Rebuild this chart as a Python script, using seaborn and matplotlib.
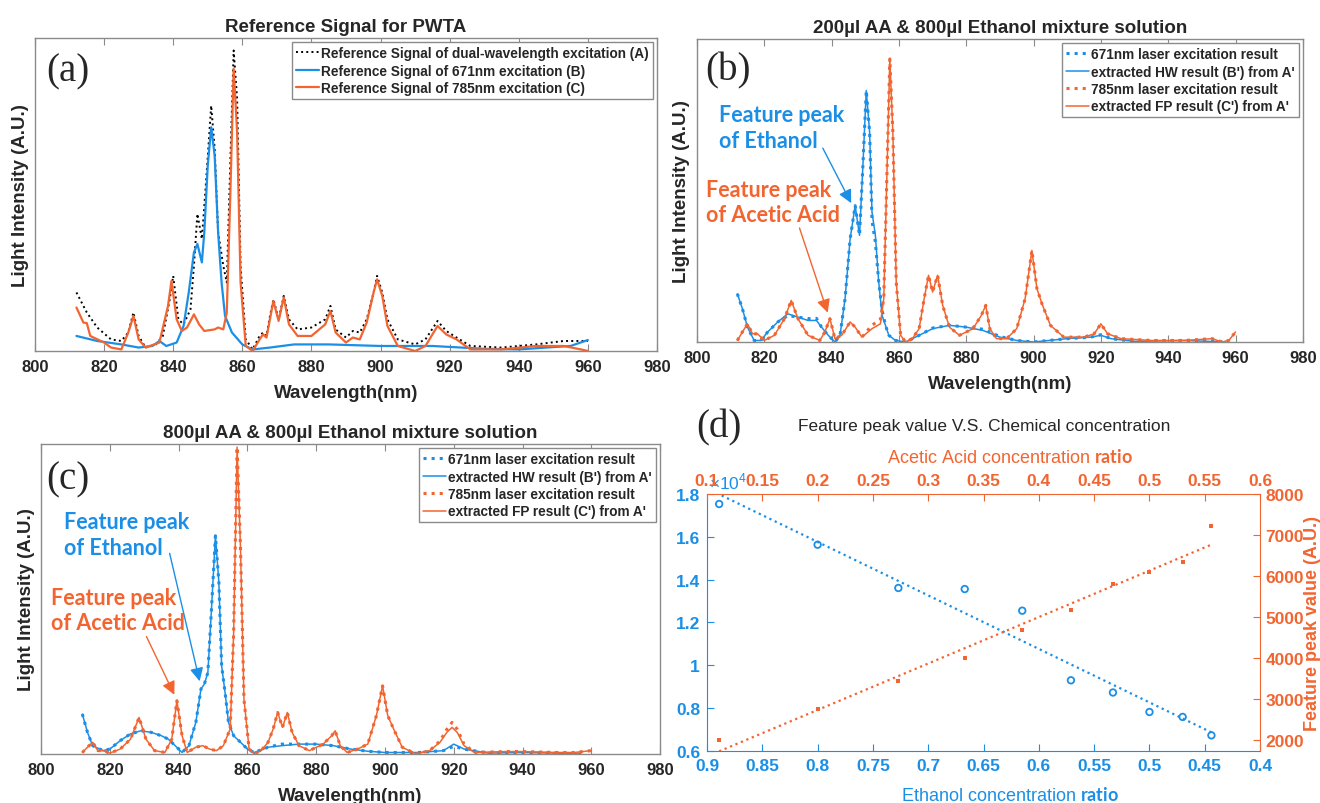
import numpy as np
import matplotlib
matplotlib.use('Agg')
import matplotlib.pyplot as plt
import seaborn as sns

sns.set_style('white')
plt.rcParams['font.family'] = ['Liberation Sans', 'DejaVu Sans']
plt.rcParams['mathtext.fontset'] = 'custom'
plt.rcParams['mathtext.rm'] = 'Liberation Sans'
plt.rcParams['mathtext.bf'] = 'Lato:bold'

BLUE = '#1b8fe6'
ORANGE = '#f26531'
GRIS = '#8a8a8a'

# (a) senales de referencia
wl_a_dual = [812, 815, 818, 822, 825, 827, 828.5, 830, 832, 835, 837, 839, 840, 841.5, 843, 845, 846, 847,
             848.3, 849.5, 851, 852, 853, 854.5, 855.5, 856.5, 857.5, 858.5, 859.5, 861, 863, 865, 866, 867,
             868, 869, 870.5, 872, 873.5, 876, 880, 884, 885.5, 887, 890, 892, 894, 896, 898, 899, 900.5,
             902, 905, 910, 913, 916.5, 919, 922, 926, 935, 945, 953, 960]
int_a_dual = [18.7, 12.3, 7.5, 3.7, 3.2, 5.9, 12.3, 4.8, 1.1, 2.1, 4.8, 16.5, 24, 10.1, 8.5, 13.3, 27.2, 43.8,
              35.8, 53.9, 78.4, 64.6, 37.9, 27.2, 21.9, 59.2, 96, 80.6, 27.2, 3.7, 0.5, 4.8, 5.9, 4.8,
              11.2, 16.5, 10.1, 17.6, 10.1, 6.9, 7.5, 10.1, 14.4, 6.9, 4.3, 6.4, 5.9, 10.1, 18.7, 24, 18.7,
              10.1, 3.7, 2.1, 3.7, 9.6, 6.4, 4.3, 1.6, 1.1, 2.1, 3.2, 3.2]
wl_a_785 = [812, 814, 815, 816, 820, 822, 825, 827, 828.5, 830, 832, 836, 838.5, 839.5, 841, 842.5, 844, 846,
            847.5, 849, 852, 853, 854.5, 855.5, 856.5, 857.5, 858.5, 859.5, 861, 863, 865, 866, 867, 869,
            870.5, 872, 873.5, 876, 880, 884, 885.5, 887, 890, 892, 894, 896, 898, 899, 900.5, 902, 905,
            910, 913, 916.5, 919, 922, 926, 935, 945, 953, 958, 960]
int_a_785 = [13.9, 9.1, 8.9, 4.8, 2.7, 1.1, 0.5, 5.9, 11.2, 3.7, 1.1, 2.7, 14.4, 22.4, 10.1, 6.4, 7.5, 11.7,
             8.5, 6.4, 6.9, 7.5, 6.9, 12.3, 48.6, 90.2, 69.9, 21.9, 1.6, 0, 3.7, 5.3, 4.3, 16,
             9.6, 17.1, 8.5, 4.8, 4.8, 8.5, 12.8, 5.9, 2.7, 4.3, 3.7, 9.1, 18.7, 22.9, 17.6, 8, 1.6,
             0, 1.6, 8, 5.3, 3.7, 0.5, 0.5, 1.6, 1.6, 0.5, 0]
wl_a_671 = [812, 818, 825, 830, 834, 836, 838, 841, 843, 844.5, 846, 847, 848.3, 849, 850, 851, 852, 853,
            854, 855, 857, 860, 863, 868, 875, 885, 900, 915, 930, 940, 948, 955, 960]
int_a_671 = [4.8, 3.2, 2.1, 1.1, 1.6, 3.2, 1.6, 2.7, 8, 18.7, 31.5, 34.2, 28.3, 37.9, 59.2, 71.5, 62.4, 37.9,
             21.9, 11.2, 5.9, 2.1, 0.5, 1.1, 2.1, 2.1, 1.6, 1.6, 0.7, 0.5, 1.1, 1.6, 3.5]

# (b) 200ul AA & 800ul etanol
wl_b_blue = [812, 813.5, 815, 817, 819, 821, 824, 827, 830, 833, 835.5, 837, 839, 841, 842.5, 844, 845.5,
             847, 848.3, 849.3, 850.3, 851.3, 852, 853, 854, 855, 856, 857, 859, 862, 866, 870, 875, 880,
             885, 890, 895, 900, 910, 917, 920, 923, 930, 945, 957]
b_671_meas = [15.9, 11, 4.9, 0.5, 0.5, 3.3, 6.6, 8.7, 8.2, 7.7, 7.8, 4.9, 2.2, 0, 2.2, 14.3, 34,
              45, 35.2, 58.2, 83, 69.2, 40, 33, 19.8, 10.5, 5.5, 2.2, 0.5, 0, 2.2, 4.6, 5.5, 4.9,
              4.2, 1.8, 0.5, 0, 1.1, 1.6, 2.4, 1.1, 0.2, 0.5, 0]
b_hw_ext = [15.9, 11, 4.9, 0.5, 0.5, 3.3, 6.6, 9.3, 8.2, 7.1, 7.1, 4.9, 2.2, 0, 2.2, 14.3, 34,
            45, 35.2, 58.2, 83, 69.2, 42.9, 35.2, 19.8, 8.8, 5.5, 2.2, 0.5, 0, 2.2, 4.4, 5.5, 4.9,
            3.8, 1.6, 0.5, 0, 1.1, 1.6, 2.2, 1.1, 0.2, 0.5, 0]
wl_b_orange = [812, 813.5, 815, 816.5, 818, 820, 823, 826, 828, 830, 833, 836.5, 838, 839.5, 841, 843,
               845.5, 847, 849, 852, 854.5, 855.5, 856.5, 857.3, 858.2, 859.2, 860.5, 862, 864, 866,
               867.5, 868.8, 870, 871.5, 873, 875, 878, 882, 884.5, 885.8, 887, 889, 892, 895, 897.5,
               899.5, 901, 902.5, 905, 909, 915, 918, 920, 922, 926, 935, 945, 953, 956, 958, 960]
b_785_meas = [0.5, 3.3, 6, 2.7, 2.7, 0.5, 2.2, 7.7, 13.7, 7.7, 2.2, 0.5, 3.3, 7.7, 1.1, 2.2,
              6.6, 4.9, 1.6, 5.5, 7.5, 14.3, 58.2, 93.4, 69.2, 19.8, 2.2, 0, 1.1, 4.4,
              14.3, 22, 16.5, 22, 12.1, 4.9, 2.2, 4.4, 8.8, 12.1, 4.4, 1.1, 1.1, 4.4, 14.3,
              30.2, 17.6, 12.6, 5.5, 1.6, 1.6, 2.7, 6, 2.7, 1.1, 0.5, 0.5, 1.1, 0, 0.5, 3.3]
b_fp_ext = [0.5, 3.3, 6, 2.7, 2.7, 0.5, 2.2, 7.7, 13.7, 7.7, 2.2, 0.5, 3.3, 7.7, 1.1, 2.2,
            6.6, 4.9, 1.6, 4.4, 6, 14.3, 58.2, 93.4, 69.2, 19.8, 2.2, 0, 1.1, 4.4,
            14.3, 22, 16.5, 22, 12.1, 4.9, 2.2, 4.4, 8.8, 12.1, 4.4, 1.1, 1.1, 4.4, 14.3,
            30.2, 17.6, 12.6, 5.5, 1.6, 1.6, 2.7, 6, 2.7, 1.1, 0.5, 0.5, 1.1, 0, 0.5, 3.3]

# (c) 800ul AA & 800ul etanol
wl_c_blue = [812, 813.5, 815, 818, 820, 823, 826, 829, 832, 835, 837, 839, 841, 843, 845, 846.5, 847.5,
             848.5, 849.5, 850.7, 851.7, 852.5, 853.5, 854.5, 856, 858, 860, 862, 866, 870, 875, 880, 885,
             890, 895, 900, 910, 917, 920, 923, 930, 940, 950, 957]
c_671_meas = [12.9, 7, 2.7, 1.1, 1.6, 4.3, 6.5, 7.5, 7, 5.9, 4.8, 2.7, 0.5, 2.7, 10.2, 21, 22.6,
              26.3, 45.7, 70.4, 55.4, 28.5, 19.9, 10.2, 5.9, 3.8, 1.6, 0.5, 2.2, 3.2, 3.2, 3.2, 2.7,
              1.6, 0.9, 0.5, 0.5, 1.1, 2.5, 1.6, 0.3, 0.5, 0.3, 0]
c_hw_ext = [12.9, 7, 2.7, 1.1, 1.6, 4.3, 6.5, 7.5, 7, 5.9, 4.8, 2.7, 0.5, 2.7, 10.2, 21, 22.6,
            26.3, 45.7, 70.4, 55.4, 28.5, 19.9, 10.2, 5.9, 3.8, 1.6, 0.5, 2.2, 2.7, 3.2, 3.2, 2.7,
            1.6, 0.9, 0.5, 0.5, 1.1, 3.2, 1.6, 0.3, 0.5, 0.3, 0]
wl_c_orange = [812, 813.5, 815, 816.5, 818, 820, 823, 826, 828.5, 830.5, 833, 836, 838, 839.5, 841, 842.5,
               845, 847, 849, 851, 853, 855, 856, 857, 858, 859, 860.5, 862, 864, 866, 867.5, 868.8,
               870.2, 871.6, 873, 875, 878, 882, 884.5, 885.5, 887, 889, 892, 895, 897.5, 899.3, 900.8,
               902.5, 905, 909, 913, 916, 918, 919.5, 921, 923, 926, 935, 940, 950, 955, 960]
c_785_meas = [0.5, 2.2, 3.8, 1.1, 1.1, 0.3, 1.6, 4.8, 11.8, 4.8, 1.1, 0.5, 4.8, 17.2, 5.9, 0.5,
              2.2, 2.7, 1.6, 1.1, 2.7, 8.1, 39.2, 99, 66.1, 17.7, 1.6, 0, 1.1, 3.8, 8.1, 13.4,
              8.6, 13.4, 7, 2.7, 1.1, 3.2, 5.9, 7.5, 2.7, 0.5, 1.6, 3.2, 12.4, 22, 12.4,
              8.1, 2.2, 0, 1.1, 4.2, 8, 10.2, 8, 3.2, 0.5, 0.8, 0.8, 0.5, 0.5, 1.1]
c_fp_ext = [0.5, 2.2, 3.8, 1.1, 1.1, 0.3, 1.6, 4.8, 11.8, 4.8, 1.1, 0.5, 4.8, 17.2, 5.9, 0.5,
            2.2, 2.7, 1.6, 1.1, 2.7, 8.1, 39.2, 99, 66.1, 17.7, 1.6, 0, 1.1, 3.8, 8.1, 13.4,
            8.6, 13.4, 7, 2.7, 1.1, 3.2, 5.9, 7.5, 2.7, 0.5, 1.6, 3.2, 12.4, 22, 12.4,
            8.1, 2.2, 0, 1.1, 3.8, 7, 8.6, 7, 2.7, 0.5, 0.8, 0.8, 0.5, 0.5, 1.1]

# (d) pico caracteristico vs concentracion
ethanol_ratio = [0.889, 0.8, 0.727, 0.667, 0.615, 0.571, 0.533, 0.5, 0.47, 0.444]
ethanol_peak = [1.753, 1.563, 1.361, 1.356, 1.255, 0.930, 0.873, 0.782, 0.759, 0.673]  # x10^4
acetic_ratio = [0.111, 0.2, 0.273, 0.333, 0.385, 0.429, 0.467, 0.5, 0.53, 0.556]
acetic_peak = [2000, 2749, 3441, 3995, 4687, 5176, 5803, 6104, 6349, 7212]

wl_ticks = list(range(800, 981, 20))


def estilo_espectro(ax, titulo, letra, ylab_x):
    ax.set_xlim(800, 980)
    ax.set_ylim(0, 100)
    ax.set_xticks(wl_ticks)
    ax.set_yticks([])
    ax.tick_params(axis='x', direction='in', top=True, bottom=True, length=5, color=GRIS,
                   labelsize=12, pad=6)
    for lab in ax.get_xticklabels():
        lab.set_fontweight('bold')
    for sp in ax.spines.values():
        sp.set_color(GRIS)
        sp.set_linewidth(1)
    ax.set_xlabel('Wavelength(nm)', fontsize=13.5, fontweight='bold', labelpad=7)
    ax.set_ylabel('Light Intensity (A.U.)', fontsize=13.5, fontweight='bold')
    ax.yaxis.set_label_coords(ylab_x, 0.5)
    ax.set_title(titulo, fontsize=13.5, fontweight='bold', pad=5)
    ax.text(letra[0], letra[1], letra[2], transform=ax.transAxes, family='Liberation Serif',
            fontsize=28, ha='center', va='center')


def leyenda(ax, fs):
    ax.legend(loc='upper right', frameon=True, fancybox=False, framealpha=1,
              edgecolor=GRIS, handlelength=1.7, handletextpad=0.15, borderpad=0.3,
              labelspacing=0.25, borderaxespad=0.3, prop={'weight': 'bold', 'size': fs})


def flechas(ax, etanol, acido):
    ax.text(etanol[0], etanol[1], 'Feature peak\nof Ethanol', color=BLUE, family='Lato',
            fontweight='bold', fontsize=15.5, ha='left', va='center', linespacing=1.25)
    ax.text(acido[0], acido[1], 'Feature peak\nof Acetic Acid', color=ORANGE, family='Lato',
            fontweight='bold', fontsize=15.5, ha='left', va='center', linespacing=1.25)
    ax.annotate('', xy=etanol[3], xytext=etanol[2],
                arrowprops=dict(arrowstyle='-|>', color=BLUE, lw=1, mutation_scale=20))
    ax.annotate('', xy=acido[3], xytext=acido[2],
                arrowprops=dict(arrowstyle='-|>', color=ORANGE, lw=1, mutation_scale=20))


fig = plt.figure(figsize=(13.2, 8.04), dpi=100)

# ---- (a)
ax_a = fig.add_axes([0.0265, 0.5622, 0.4712, 0.3893])
sns.lineplot(x=wl_a_dual, y=int_a_dual, ax=ax_a, sort=False, estimator=None, color='black',
             linestyle=':', linewidth=1.4, label='Reference Signal of dual-wavelength excitation (A)')
sns.lineplot(x=wl_a_671, y=int_a_671, ax=ax_a, sort=False, estimator=None, color=BLUE,
             linewidth=1.6, label='Reference Signal of 671nm excitation (B)')
sns.lineplot(x=wl_a_785, y=int_a_785, ax=ax_a, sort=False, estimator=None, color=ORANGE,
             linewidth=1.6, label='Reference Signal of 785nm excitation (C)')
estilo_espectro(ax_a, 'Reference Signal for PWTA', (0.053, 0.895, '(a)'), -0.009)
leyenda(ax_a, 9.8)

# ---- (b)
ax_b = fig.add_axes([0.528, 0.5734, 0.459, 0.3769])
sns.lineplot(x=wl_b_blue, y=b_671_meas, ax=ax_b, sort=False, estimator=None, color=BLUE,
             linestyle=':', linewidth=2.2, label='671nm laser excitation result')
sns.lineplot(x=wl_b_blue, y=b_hw_ext, ax=ax_b, sort=False, estimator=None, color=BLUE,
             linewidth=1.1, label="extracted HW result (B') from A'")
sns.lineplot(x=wl_b_orange, y=b_785_meas, ax=ax_b, sort=False, estimator=None, color=ORANGE,
             linestyle=':', linewidth=2.2, label='785nm laser excitation result')
sns.lineplot(x=wl_b_orange, y=b_fp_ext, ax=ax_b, sort=False, estimator=None, color=ORANGE,
             linewidth=1.1, label="extracted FP result (C') from A'")
estilo_espectro(ax_b, '200\u00b5l AA & 800\u00b5l Ethanol mixture solution', (0.051, 0.898, '(b)'), -0.012)
leyenda(ax_b, 9.8)
flechas(ax_b, (806.5, 70.8, (837, 64.8), (846.2, 45)),
        (802.7, 46.2, (830.2, 38.5), (839.1, 8.8)))

# ---- (c)
ax_c = fig.add_axes([0.0311, 0.0609, 0.469, 0.3856])
sns.lineplot(x=wl_c_blue, y=c_671_meas, ax=ax_c, sort=False, estimator=None, color=BLUE,
             linestyle=':', linewidth=2.2, label='671nm laser excitation result')
sns.lineplot(x=wl_c_blue, y=c_hw_ext, ax=ax_c, sort=False, estimator=None, color=BLUE,
             linewidth=1.1, label="extracted HW result (B') from A'")
sns.lineplot(x=wl_c_orange, y=c_785_meas, ax=ax_c, sort=False, estimator=None, color=ORANGE,
             linestyle=':', linewidth=2.2, label='785nm laser excitation result')
sns.lineplot(x=wl_c_orange, y=c_fp_ext, ax=ax_c, sort=False, estimator=None, color=ORANGE,
             linewidth=1.1, label="extracted FP result (C') from A'")
estilo_espectro(ax_c, '800\u00b5l AA & 800\u00b5l Ethanol mixture solution', (0.044, 0.887, '(c)'), -0.01)
leyenda(ax_c, 9.8)
flechas(ax_c, (806.7, 70.8, (837.2, 65.6), (846.3, 22.6)),
        (802.9, 46.5, (830.3, 38.7), (839.1, 18.3)))

# ---- (d)
pos_d = [0.5356, 0.0647, 0.419, 0.3197]
ax_d = fig.add_axes(pos_d)
ax_d2 = fig.add_axes(pos_d)
ax_d2.patch.set_alpha(0)

sns.regplot(x=ethanol_ratio, y=ethanol_peak, ax=ax_d, scatter=False, ci=None, color=BLUE,
            line_kws=dict(linestyle=':', linewidth=1.6))
sns.scatterplot(x=ethanol_ratio, y=ethanol_peak, ax=ax_d, marker='o', s=22, facecolor='none',
                edgecolor=BLUE, linewidth=1.3)
sns.regplot(x=acetic_ratio, y=acetic_peak, ax=ax_d2, scatter=False, ci=None, color=ORANGE,
            line_kws=dict(linestyle=':', linewidth=1.6))
sns.scatterplot(x=acetic_ratio, y=acetic_peak, ax=ax_d2, marker='s', s=10, color=ORANGE,
                linewidth=0)

ax_d.set_xlim(0.9, 0.4)
ax_d.set_ylim(0.6, 1.8)
ax_d.set_xticks(np.arange(0.4, 0.91, 0.05))
ax_d.set_xticklabels(['0.4', '0.45', '0.5', '0.55', '0.6', '0.65', '0.7', '0.75', '0.8', '0.85', '0.9'])
ax_d.set_yticks(np.arange(0.6, 1.81, 0.2))
ax_d.set_yticklabels(['0.6', '0.8', '1', '1.2', '1.4', '1.6', '1.8'])
ax_d.tick_params(direction='in', length=5, colors=BLUE, labelsize=12.5, pad=5,
                 left=True, bottom=True, top=False, right=False)
for lab in ax_d.get_xticklabels() + ax_d.get_yticklabels():
    lab.set_fontweight('bold')
ax_d.spines['left'].set_color(BLUE)
ax_d.spines['bottom'].set_color(BLUE)
ax_d.spines['top'].set_visible(False)
ax_d.spines['right'].set_visible(False)
ax_d.set_xlabel('Ethanol concentration $\\bf{ratio}$', color=BLUE, fontsize=13)
ax_d.xaxis.set_label_coords(0.548, -0.135)
ax_d.text(0.004, 1.05, '$\\times10^4$', transform=ax_d.transAxes, color=BLUE, fontsize=12.5,
          ha='left', va='center')

ax_d2.set_xlim(0.1, 0.6)
ax_d2.set_ylim(1730, 8000)
ax_d2.xaxis.tick_top()
ax_d2.yaxis.tick_right()
ax_d2.xaxis.set_label_position('top')
ax_d2.yaxis.set_label_position('right')
ax_d2.set_xticks(np.arange(0.1, 0.61, 0.05))
ax_d2.set_xticklabels(['0.1', '0.15', '0.2', '0.25', '0.3', '0.35', '0.4', '0.45', '0.5', '0.55', '0.6'])
ax_d2.set_yticks(range(2000, 8001, 1000))
ax_d2.tick_params(direction='in', length=5, colors=ORANGE, labelsize=12.5, pad=4)
for lab in ax_d2.get_xticklabels() + ax_d2.get_yticklabels():
    lab.set_fontweight('bold')
ax_d2.spines['right'].set_color(ORANGE)
ax_d2.spines['top'].set_color(ORANGE)
ax_d2.spines['left'].set_visible(False)
ax_d2.spines['bottom'].set_visible(False)
ax_d2.set_xlabel('Acetic Acid concentration $\\bf{ratio}$', color=ORANGE, fontsize=13)
ax_d2.xaxis.set_label_coords(0.548, 1.125)
ax_d2.set_ylabel('Feature peak value (A.U.)', color=ORANGE, fontsize=13, fontweight='bold')
ax_d2.yaxis.set_label_coords(1.079, 0.5)

fig.text(0.7455, 0.469, 'Feature peak value V.S. Chemical concentration', fontsize=12.5,
         ha='center', va='center')
fig.text(0.545, 0.468, '(d)', family='Liberation Serif', fontsize=28, ha='center', va='center')

fig.savefig('out.png', dpi=100)
